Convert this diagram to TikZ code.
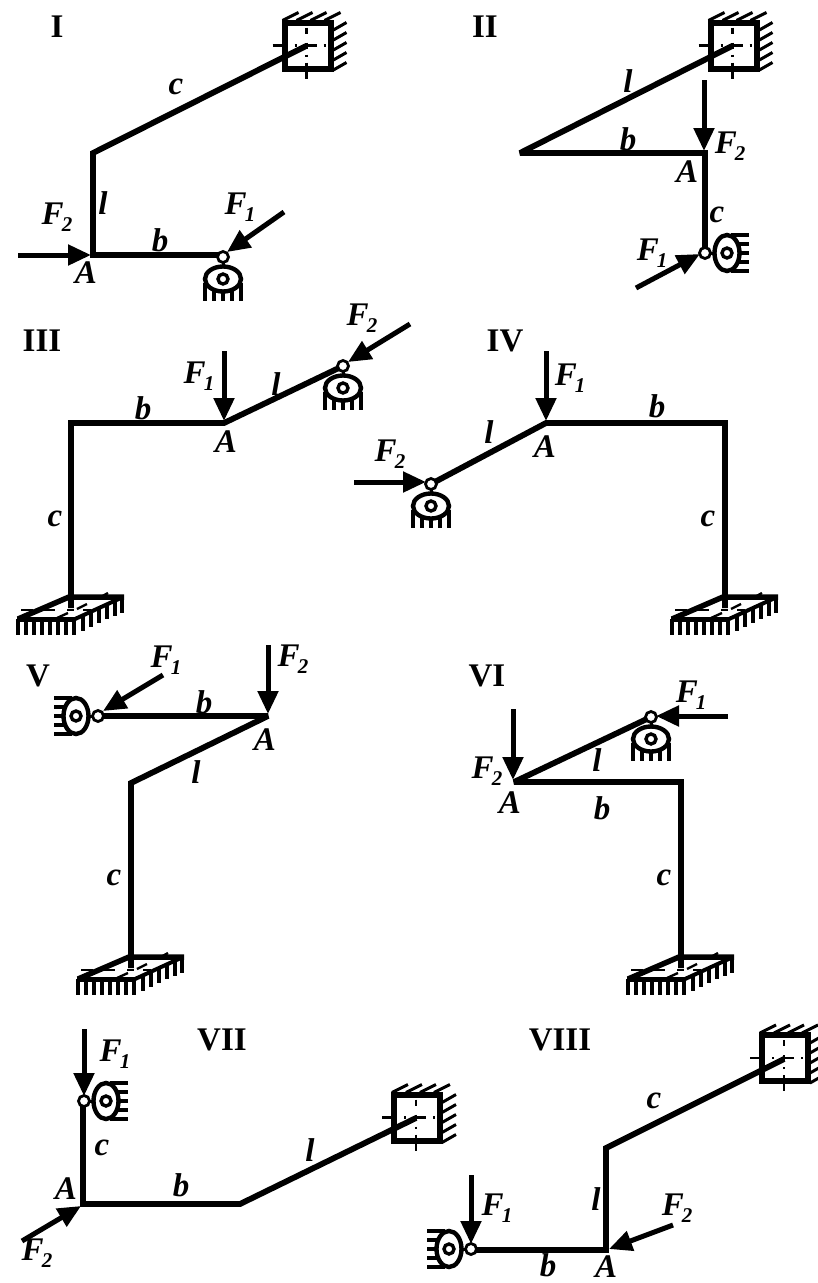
\documentclass[tikz,border=0pt]{standalone}
\usepackage{fontspec}
\setmainfont{Liberation Serif}
\usetikzlibrary{arrows.meta}
\tikzset{
  member/.style={line width=5.8pt,line join=miter,miter limit=2},
  force/.style={line width=5pt,-{Triangle[length=23pt,width=20pt]}},
  sym/.style={font=\fontsize{33}{33}\selectfont\bfseries\itshape,inner sep=0pt},
  num/.style={font=\fontsize{33}{33}\selectfont\bfseries,inner sep=0pt},
  hatchline/.style={line width=3pt},
  tick/.style={line width=3.2pt},
  axisline/.style={line width=2.4pt},
  pin/.style={circle,draw,fill=white,line width=2.8pt,inner sep=0pt,minimum size=11pt},
}
\newcommand{\Fsub}[1]{F\kern-2pt\raisebox{-7pt}[0pt][0pt]{\fontsize{21}{21}\selectfont #1}}
% roller support: (1)=x (2)=y (3)=rotation
\newcommand{\roller}[3]{%
  \begin{scope}[shift={(#1,#2)},rotate=#3]
    \draw[line width=3pt] (0,0) -- (0,14);
    \foreach \u/\v in {-18/26,-9/32,0/34,9/32,18/26}{\draw[tick] (\u,\v) -- (\u,44);}
    \draw[line width=4.4pt,fill=white] (0,22) ellipse [x radius=18,y radius=12.5];
    \draw[line width=3.4pt,fill=white] (0,22) circle [radius=5];
  \end{scope}}
% fixed square wall: (1)=x (2)=y centre
\newcommand{\clamp}[2]{%
  \begin{scope}[shift={(#1,#2)}]
    \foreach \u in {-25,-11,3,17}{\draw[hatchline] (\u,-25) -- (\u+16,-33);}
    \foreach \v in {-15,-5,5,15,25}{\draw[hatchline] (25,\v) -- (39,\v-8);}
    \draw[line width=6pt] (-23,-23) rectangle (23,23);
    \foreach \a/\b in {-35/-24,-13/-11,-4/9,16/18}{\draw[axisline] (\a,0) -- (\b,0);}
    \foreach \a/\b in {-18/-12,-3/3,9/11,17/33}{\draw[axisline] (-1,\a) -- (-1,\b);}
  \end{scope}}
% built-in floor: (1)=x of column (2)=y top of plate
\newcommand{\floorclamp}[2]{%
  \begin{scope}[shift={(#1,#2)}]
    \foreach \u in {-53,-45,-37,-29,-21,-13,-5,3}{\draw[tick] (\u,22) -- (\u,38);}
    \foreach \u/\v in {12/19,20/15,28/11,36/7,44/4}{\draw[tick] (\u,\v) -- (\u,\v+15);}
    \draw[line width=3.6pt] (51,-1) -- (51,16);
    \draw[line width=5.5pt,line join=bevel] (-53,22) -- (-2,0) -- (53,0);
    \draw[line width=5pt] (-54,22) -- (5,22);
    \draw[line width=4pt] (4,22) -- (52,0);
    \draw[axisline] (-50,13) -- (-38,13) (-28,13) -- (-16,13) (-4,13) -- (3,13) (12,13) -- (20,13);
    \draw[axisline] (37,-4) -- (28,1) (16,7) -- (6,12) (-3,16) -- (-14,21);
  \end{scope}}
\begin{document}
\begin{tikzpicture}[x=1pt,y=-1pt]
\useasboundingbox (0,0) rectangle (817,1283);
% ---------- I
\clamp{307.5}{45.5}
\coordinate (i1) at (306,46); \coordinate (i2) at (93,153); \coordinate (i3) at (93,255); \coordinate (i4) at (223,255);
\coordinate (if2s) at (18,255); \coordinate (if2e) at (91,255); \coordinate (if1s) at (284,212); \coordinate (if1e) at (227,252);
\draw[member] (i1) -- (i2) -- (i3) -- (i4);
\roller{223}{257}{0}
\node[pin] (ipin) at (223,257) {};
\draw[force] (if2s) -- (if2e);
\draw[force] (if1s) -- (if1e);
\node[num] (iI) at (57,27) {I};
\node[sym] (ic) at (176,87) {c};
\node[sym] (il) at (103,203) {l};
\node[sym] (iF2) at (57,214) {\Fsub{2}};
\node[sym] (ib) at (160,240) {b};
\node[sym] (iF1) at (240,204) {\Fsub{1}};
\node[sym] (iA) at (86,273) {A};
% ---------- II
\clamp{733.5}{45.5}
\coordinate (ii1) at (732,46); \coordinate (ii2) at (520,153); \coordinate (ii3) at (705,153); \coordinate (ii4) at (705,253);
\draw[member] (ii1) -- (ii2) -- (ii3) -- (ii4);
\roller{705}{253}{90}
\node[pin] (iipin) at (705,253) {};
\coordinate (iif2s) at (704,80); \coordinate (iif2e) at (704,151); \coordinate (iif1s) at (636,288); \coordinate (iif1e) at (700,254);
\draw[force] (iif2s) -- (iif2e);
\draw[force] (iif1s) -- (iif1e);
\node[num] (iiI) at (485,27) {II};
\node[sym] (iil) at (628,81) {l};
\node[sym] (iib) at (628,139) {b};
\node[sym] (iiF2) at (730,143) {\Fsub{2}};
\node[sym] (iiA) at (687,172) {A};
\node[sym] (iic) at (717,215) {c};
\node[sym] (iiF1) at (652,250) {\Fsub{1}};
% ---------- III
\floorclamp{71}{597}
\coordinate (a1) at (71,608); \coordinate (a2) at (71,423); \coordinate (a3) at (224,423); \coordinate (a4) at (343,366);
\draw[member] (a1) -- (a2) -- (a3) -- (a4);
\roller{343}{366}{0}
\node[pin] (apin) at (343,366) {};
\coordinate (af2s) at (410,324); \coordinate (af2e) at (348,362); \coordinate (af1s) at (224,351); \coordinate (af1e) at (224,421);
\draw[force] (af2s) -- (af2e);
\draw[force] (af1s) -- (af1e);
\node[num] (aI) at (42,341) {III};
\node[sym] (ab) at (143,408) {b};
\node[sym] (aF1) at (199,373) {\Fsub{1}};
\node[sym] (al) at (276,384) {l};
\node[sym] (aF2) at (362,315) {\Fsub{2}};
\node[sym] (aA) at (226,442) {A};
\node[sym] (ac) at (55,519) {c};
% ---------- IV
\floorclamp{725}{597}
\coordinate (b1) at (725,608); \coordinate (b2) at (725,423); \coordinate (b3) at (546,423); \coordinate (b4) at (431,484);
\draw[member] (b1) -- (b2) -- (b3) -- (b4);
\roller{431}{484}{0}
\node[pin] (bpin) at (431,484) {};
\coordinate (bf2s) at (354,482); \coordinate (bf2e) at (426,482); \coordinate (bf1s) at (546,351); \coordinate (bf1e) at (546,421);
\draw[force] (bf2s) -- (bf2e);
\draw[force] (bf1s) -- (bf1e);
\node[num] (bI) at (505,341) {IV};
\node[sym] (bF1) at (570,375) {\Fsub{1}};
\node[sym] (bb) at (657,406) {b};
\node[sym] (bl) at (489,432) {l};
\node[sym] (bF2) at (390,451) {\Fsub{2}};
\node[sym] (bA) at (545,447) {A};
\node[sym] (bc) at (708,519) {c};
% ---------- V
\floorclamp{131}{957}
\coordinate (c1) at (131,968); \coordinate (c2) at (131,783); \coordinate (c3) at (268,716); \coordinate (c4) at (98,716);
\draw[member] (c1) -- (c2) -- (c3) -- (c4);
\roller{98}{716}{-90}
\node[pin] (cpin) at (98,716) {};
\coordinate (cf1s) at (163,675); \coordinate (cf1e) at (103,711); \coordinate (cf2s) at (268,645); \coordinate (cf2e) at (268,714);
\draw[force] (cf1s) -- (cf1e);
\draw[force] (cf2s) -- (cf2e);
\node[num] (cI) at (38,676) {V};
\node[sym] (cF1) at (166,657) {\Fsub{1}};
\node[sym] (cF2) at (293,656) {\Fsub{2}};
\node[sym] (cb) at (204,702) {b};
\node[sym] (cA) at (265,740) {A};
\node[sym] (cl) at (196,772) {l};
\node[sym] (cc) at (114,878) {c};
% ---------- VI
\floorclamp{681}{957}
\coordinate (d1) at (681,968); \coordinate (d2) at (681,782); \coordinate (d3) at (514,782); \coordinate (d4) at (651,717);
\draw[member] (d1) -- (d2) -- (d3) -- (d4);
\roller{651}{717}{0}
\node[pin] (dpin) at (651,717) {};
\coordinate (df1s) at (728,716); \coordinate (df1e) at (656,716); \coordinate (df2s) at (513,709); \coordinate (df2e) at (513,780);
\draw[force] (df1s) -- (df1e);
\draw[force] (df2s) -- (df2e);
\node[num] (dI) at (487,676) {VI};
\node[sym] (dF1) at (691,692) {\Fsub{1}};
\node[sym] (dl) at (597,760) {l};
\node[sym] (dF2) at (487,768) {\Fsub{2}};
\node[sym] (dA) at (510,803) {A};
\node[sym] (db) at (602,808) {b};
\node[sym] (dc) at (664,878) {c};
% ---------- VII
\clamp{417}{1117.5}
\coordinate (e1) at (416,1118); \coordinate (e2) at (240,1204); \coordinate (e3) at (83,1204); \coordinate (e4) at (83,1101);
\draw[member] (e1) -- (e2) -- (e3) -- (e4);
\roller{84}{1101}{90}
\node[pin] (epin) at (84,1101) {};
\coordinate (ef1s) at (84,1029); \coordinate (ef1e) at (84,1096); \coordinate (ef2s) at (22,1241); \coordinate (ef2e) at (81,1206);
\draw[force] (ef1s) -- (ef1e);
\draw[force] (ef2s) -- (ef2e);
\node[num] (eI) at (222,1040) {VII};
\node[sym] (eF1) at (115,1051) {\Fsub{1}};
\node[sym] (ec) at (102,1148) {c};
\node[sym] (el) at (310,1150) {l};
\node[sym] (eb) at (181,1185) {b};
\node[sym] (eA) at (66,1189) {A};
\node[sym] (eF2) at (37,1250) {\Fsub{2}};
% ---------- VIII
\clamp{785}{1058}
\coordinate (f1) at (784,1059); \coordinate (f2) at (606,1148); \coordinate (f3) at (606,1250); \coordinate (f4) at (471,1250);
\draw[member] (f1) -- (f2) -- (f3) -- (f4);
\roller{471}{1249}{-90}
\node[pin] (fpin) at (471,1249) {};
\coordinate (ff1s) at (471,1175); \coordinate (ff1e) at (471,1244); \coordinate (ff2s) at (673,1225); \coordinate (ff2e) at (609,1249);
\draw[force] (ff1s) -- (ff1e);
\draw[force] (ff2s) -- (ff2e);
\node[num] (fI) at (560,1040) {VIII};
\node[sym] (fc) at (654,1101) {c};
\node[sym] (fl) at (596,1199) {l};
\node[sym] (fF1) at (497,1205) {\Fsub{1}};
\node[sym] (fF2) at (677,1205) {\Fsub{2}};
\node[sym] (fb) at (548,1265) {b};
\node[sym] (fA) at (606,1267) {A};
\end{tikzpicture}
\end{document}
